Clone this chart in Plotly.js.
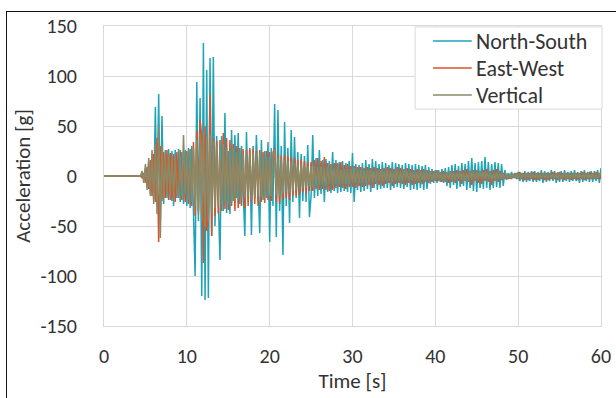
<!DOCTYPE html>
<html><head><meta charset="utf-8">
<script src="https://cdn.plot.ly/plotly-3.0.1.min.js"></script>
<style>
html,body{margin:0;padding:0;background:#fff;overflow:hidden}
#chart{width:616px;height:398px;position:absolute;left:0;top:0}
#frame{position:absolute;left:6px;top:11px;width:640px;height:420px;border-left:1px solid #111;border-top:1px solid #111;pointer-events:none}
</style></head><body>
<div id="chart"></div><div id="frame"></div>
<script>
// Record sampled every 0.2 s from 0 s to 60 s (one row = one second)
const sampleStep = 0.2;
const seriesNames = ['North-South', 'East-West', 'Vertical'];
const xTickValues = [0, 10, 20, 30, 40, 50, 60];
const yTickValues = [-150, -100, -50, 0, 50, 100, 150];

const nsAccel = [
0,0,0,0,0, 0,0,0,0,0, 0,0,0,0,0, 0,0,0,0,0,
0,0,0,2,-3,
8,-10,14,-18,22,
-24,69,-30,82,-45,
60,-28,26,-22,27,
-24,25,-30,26,-22,
27,-26,24,-28,26,
-30,28,-32,30,-45,
-100,94,-45,78,-120,
133,-124,106,-122,118,
-60,119,-50,40,-30,
-84,40,-35,63,-37,
25,-38,46,-25,41,
-22,43,-28,30,-25,
-60,44,-20,26,-59,
30,-22,41,-20,-57,
36,-24,25,-22,34,
-66,28,-30,72,-61,
66,-35,30,-79,54,
-30,28,-47,46,-26,
39,-22,24,-42,22,
-25,20,-26,31,-41,
-20,41,-22,18,-20,
26,-18,16,-26,17,
-16,15,-17,24,-15,
16,-17,14,-16,15,
-15,13,-16,15,-17,
23,-26,12,-14,11,
-16,13,-15,16,-13,
12,-16,17,-12,15,
-14,12,-13,14,-12,
13,-12,11,-14,14,
-12,13,-11,12,-12,
11,-13,13,-11,12,
-14,11,-13,12,-14,
11,-12,10,-14,11,
-13,9,-8,7,-7,
6,-7,6,-6,7,
-7,8,-10,9,-12,
11,-9,12,-13,10,
-11,13,-10,12,-14,
15,-12,18,-15,13,
-16,14,-12,15,-13,
19,-12,14,-14,12,
-12,14,-11,13,-12,
12,-10,6,-4,3,
-3,4,-2,3,-3,
4,-5,3,-6,5,
-6,4,-5,5,-6,
5,-6,4,-5,6,
-7,5,-6,4,-5,
6,-5,5,-7,4,
-6,5,-6,6,-5,
4,-6,5,-5,6,
-5,4,-7,5,-6,
6,-5,4,-6,5,
-6,5,-5,6,-7,
8
];

const ewAccel = [
0,0,0,0,0, 0,0,0,0,0, 0,0,0,0,0, 0,0,0,0,0,
0,0,0,-2,3,
-7,9,-13,16,-20,
22,-26,38,-66,30,
-25,24,-22,26,-24,
23,-25,22,-26,24,
-22,26,-24,22,-26,
25,-28,27,-30,34,
-40,45,-35,56,40,
-87,50,-55,-38,82,
-60,38,-40,35,-38,
36,-35,43,-33,38,
-34,36,-30,32,-35,
30,-32,28,-30,27,
-32,26,-30,28,-25,
27,-28,25,-30,26,
-26,24,-27,25,-24,
24,-25,23,28,-26,
22,-28,20,-24,21,
-22,20,-24,19,-20,
18,-20,16,-19,17,
-16,15,-18,14,-15,
14,-15,16,-13,18,
-14,15,-13,19,-14,
13,-15,12,-14,13,
-12,13,-11,14,-12,
11,-13,12,-11,10,
-11,10,-12,9,-10,
9,-11,8,-10,9,
-9,8,-12,9,-8,
8,-9,7,-10,8,
-8,9,-7,8,-10,
7,-8,9,-7,8,
-8,7,-9,8,-7,
7,-9,6,-8,7,
-7,6,-8,7,-6,
6,-7,5,-6,5,
-5,6,-5,4,-6,
5,-6,4,-7,5,
-6,5,-7,6,-5,
5,-8,6,-5,7,
-6,5,-9,6,-5,
6,-7,5,-8,6,
-5,7,-6,5,-9,
6,-5,7,-6,5,
-4,3,-3,2,-3,
2,-3,2,-2,3,
-3,4,-3,3,-4,
3,-4,3,-3,4,
-4,3,-4,3,-3,
3,-4,3,-4,3,
-3,4,-3,3,-4,
4,-3,3,-4,3,
-3,3,-4,3,-3,
3,-4,3,-3,4,
-4,3,-3,4,-3,
3,-3,4,-3,3,
-3
];

const vtAccel = [
0,0,0,0,0, 0,0,0,0,0, 0,0,0,0,0, 0,0,0,0,0,
0,0,0,5,-7,
12,-14,18,-20,26,
-28,32,-38,50,-62,
30,-22,20,-18,22,
-20,18,-21,19,-18,
-19,20,-20,41,-18,
22,-24,25,-26,28,
-30,36,-38,42,-45,
44,-50,40,-46,42,
-38,35,-32,30,-30,
30,-28,32,-27,28,
-28,26,-27,28,-25,
24,-23,25,-22,23,
-22,23,-21,22,-24,
22,-21,23,-20,22,
-21,20,-22,19,-20,
19,-20,18,27,-19,
18,-20,17,-18,16,
-16,15,-17,14,-15,
13,-14,12,-13,12,
-12,11,-12,10,-11,
10,-11,10,-10,9,
-9,10,-9,9,-10,
9,-8,9,-9,8,
-8,9,-8,7,-8,
7,-8,7,-8,7,
-7,8,-7,6,-7,
6,-7,6,-7,6,
-6,6,-7,5,-6,
6,-5,6,-6,5,
-5,6,-5,5,-6,
5,-5,6,-5,5,
-5,5,-4,5,-5,
4,-5,4,-5,4,
-4,5,-4,4,-5,
4,-4,4,-4,3,
-3,4,-3,3,-4,
3,-4,3,-3,4,
-4,3,-4,3,-3,
3,-4,3,-4,3,
-4,3,-4,4,-3,
4,-3,4,-3,4,
-3,4,-3,3,-4,
3,-3,4,-3,3,
-3,2,-2,2,-2,
2,-2,2,-2,2,
-2,2,-2,2,-2,
2,-2,2,-2,2,
-2,2,-2,2,-2,
2,-2,2,-2,2,
-2,2,-2,2,-2,
2,-2,2,-2,2,
-2,2,-2,2,-2,
2,-2,2,-2,2,
-2,2,-2,2,-2,
2,-2,2,-2,2,
2
];

const time = nsAccel.map((_, i) => Math.round(i * sampleStep * 10) / 10);

const FONT = 'Calibri, Carlito, Lato, "Open Sans", sans-serif';
const TXT = '#333333';
const GRID = '#d9d9d9';
const colors = ['#1FA3B6', '#D4552B', '#8B8A66'];
const series = [nsAccel, ewAccel, vtAccel];

const traces = series.map((y, k) => ({
  type: 'scatter', mode: 'lines', x: time, y: y, name: seriesNames[k],
  line: {color: colors[k], width: 1.5}, showlegend: false
}));

// Legend drawn as a boxed key in the upper-right of the plot area (paper units)
const legBox = {x0: 0.626, x1: 1.002, y0: 0.723, y1: 0.997};
const legRows = [0.95, 0.86, 0.77];
const shapes = [{
  type: 'rect', xref: 'paper', yref: 'paper',
  x0: legBox.x0, x1: legBox.x1, y0: legBox.y0, y1: legBox.y1,
  fillcolor: '#fff', line: {color: GRID, width: 1}, layer: 'above'
}];
const annotations = [];
seriesNames.forEach((nm, k) => {
  shapes.push({type: 'line', xref: 'paper', yref: 'paper', x0: 0.662, x1: 0.740,
    y0: legRows[k], y1: legRows[k], line: {color: colors[k], width: 1.5}, layer: 'above'});
  annotations.push({xref: 'paper', yref: 'paper', x: 0.744, y: legRows[k],
    xanchor: 'left', yanchor: 'middle', showarrow: false, text: nm,
    font: {family: FONT, size: 22, color: TXT}});
});

const layout = {
  width: 616, height: 398,
  margin: {l: 104, r: 15, t: 26, b: 72},
  paper_bgcolor: '#fff', plot_bgcolor: '#fff',
  showlegend: false,
  shapes: shapes, annotations: annotations,
  xaxis: {
    range: [0, 60], tickvals: xTickValues, ticktext: xTickValues.map(String),
    showgrid: true, gridcolor: GRID, gridwidth: 1, zeroline: false,
    showline: true, mirror: true, linecolor: GRID, linewidth: 1,
    ticks: '', ticklabelstandoff: 12,
    tickfont: {family: FONT, size: 20, color: TXT},
    title: {text: 'Time [s]', font: {family: FONT, size: 21, color: TXT}, standoff: 6}
  },
  yaxis: {
    range: [-150, 150], tickvals: yTickValues, ticktext: yTickValues.map(String),
    showgrid: true, gridcolor: GRID, gridwidth: 1,
    zeroline: true, zerolinecolor: GRID, zerolinewidth: 1,
    showline: true, mirror: true, linecolor: GRID, linewidth: 1,
    ticks: '', ticklabelstandoff: 22,
    tickfont: {family: FONT, size: 20, color: TXT},
    title: {text: 'Acceleration [g]', font: {family: FONT, size: 21, color: TXT}, standoff: 4}
  }
};

Plotly.newPlot('chart', traces, layout, {staticPlot: true, displayModeBar: false});
</script>
</body></html>
